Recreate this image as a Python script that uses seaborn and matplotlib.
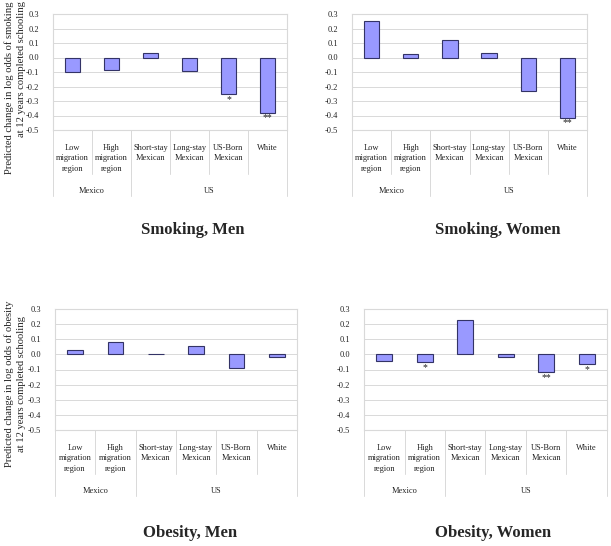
import matplotlib
matplotlib.use("Agg")
import matplotlib.pyplot as plt
import matplotlib.transforms as mtrans
import numpy as np
import pandas as pd
import seaborn as sns

# categories on the x axis (two levels, as in the Excel original)
categories = ["Low\nmigration\nregion", "High\nmigration\nregion", "Short-stay\nMexican",
              "Long-stay\nMexican", "US-Born\nMexican", "White"]
groups = ["Mexico", "US"]
group_sizes = [2, 4]

# predicted change in log odds at 12 years completed schooling
smoking_men = [-0.10, -0.085, 0.03, -0.09, -0.255, -0.38]
smoking_women = [0.25, 0.023, 0.122, 0.03, -0.228, -0.415]
obesity_men = [0.03, 0.085, 0.003, 0.055, -0.09, -0.02]
obesity_women = [-0.045, -0.05, 0.23, -0.018, -0.118, -0.062]

# significance stars
smoking_men_sig = ["", "", "", "", "*", "**"]
smoking_women_sig = ["", "", "", "", "", "**"]
obesity_men_sig = ["", "", "", "", "", ""]
obesity_women_sig = ["", "*", "", "", "**", "*"]

yticks = [0.3, 0.2, 0.1, 0.0, -0.1, -0.2, -0.3, -0.4, -0.5]

sns.set_style("white")
plt.rcParams["font.family"] = ["Liberation Serif", "DejaVu Serif"]

W, H = 611, 546
fig = plt.figure(figsize=(W / 100, H / 100), dpi=100)

# title, values, stars, plot box in px, title x (axes frac), title offset px
panels = [
    ("Smoking, Men", smoking_men, smoking_men_sig, (53, 14, 287, 130), 0.598, 100),
    ("Smoking, Women", smoking_women, smoking_women_sig, (352, 14, 587, 130), 0.62, 100),
    ("Obesity, Men", obesity_men, obesity_men_sig, (55, 309, 297, 430), 0.56, 103),
    ("Obesity, Women", obesity_women, obesity_women_sig, (364, 309, 607, 430), 0.53, 103),
]

grid_col = "#d9d9d9"
txt_col = "#222222"

for title, vals, sig, (x0, y0, x1, y1), tx, toff in panels:
    ax = fig.add_axes([x0 / W, 1 - y1 / H, (x1 - x0) / W, (y1 - y0) / H])
    df = pd.DataFrame({"cat": categories, "val": vals})
    sns.barplot(data=df, x="cat", y="val", order=categories, color="#9999ff",
                saturation=1, width=0.39, edgecolor="#333366", linewidth=0.8, ax=ax)
    ax.set_ylim(-0.5, 0.3)
    ax.set_xlim(-0.5, len(categories) - 0.5)
    ax.set_yticks(yticks)
    ax.set_yticklabels([f"{t:.1f}" for t in yticks], fontsize=6, color=txt_col)
    ax.tick_params(axis="y", length=0, pad=10)
    ax.set_xticks([])
    ax.set_xlabel("")
    ax.set_ylabel("")
    ax.yaxis.grid(True, color=grid_col, linewidth=0.7)
    ax.set_axisbelow(True)
    for s in ax.spines.values():
        s.set_color(grid_col)
        s.set_linewidth(0.8)

    # stars under negative bars
    for i, (v, s) in enumerate(zip(vals, sig)):
        if s:
            ax.text(i, v - 0.006, s, ha="center", va="top", fontsize=7, color=txt_col)

    hpx = y1 - y0
    tr = mtrans.blended_transform_factory(ax.transData, ax.transAxes)

    # first level category labels and inner dividers
    for i, c in enumerate(categories):
        ax.text(i, -14 / hpx, c, transform=tr, ha="center", va="top",
                fontsize=6, linespacing=1.4, color=txt_col)
    for b in range(1, len(categories)):
        ax.plot([b - 0.5, b - 0.5], [0, -44 / hpx], transform=tr,
                color=grid_col, lw=0.7, clip_on=False)
    # second level group labels and outer dividers
    start = 0
    edges = [-0.5]
    for g, n in zip(groups, group_sizes):
        ax.text(start + (n - 1) / 2, -57 / hpx, g, transform=tr, ha="center", va="top",
                fontsize=6, color=txt_col)
        start += n
        edges.append(start - 0.5)
    for e in edges:
        ax.plot([e, e], [0, -66 / hpx], transform=tr,
                color=grid_col, lw=0.7, clip_on=False)

    # panel title below
    ax.text(tx, -toff / hpx, title, transform=ax.transAxes, ha="center", va="center",
            fontsize=12, fontweight="bold")

# y axis labels of the left column
fig.text(15 / W, 1 - 1 / H,
         "Predicted change in log odds of smoking\nat 12 years completed schooling",
         rotation=90, ha="center", va="top", multialignment="right",
         fontsize=7.6, linespacing=1.35, color=txt_col)
fig.text(15 / W, 1 - 384 / H,
         "Predicted change in log odds of obesity\nat 12 years completed schooling",
         rotation=90, ha="center", va="center", multialignment="center",
         fontsize=7.6, linespacing=1.35, color=txt_col)

fig.savefig("out.png", dpi=100, facecolor="white")
